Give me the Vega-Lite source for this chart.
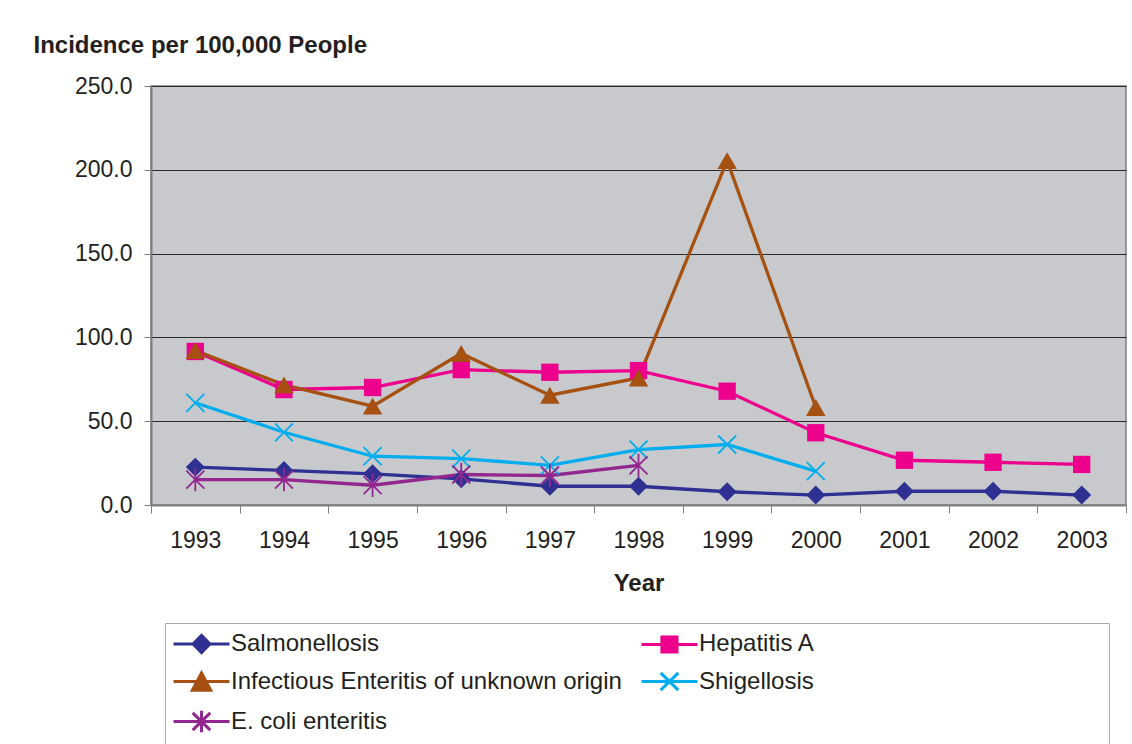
{
  "$schema": "https://vega.github.io/schema/vega-lite/v6.json",
  "width": 975,
  "height": 419,
  "autosize": {"type": "none"},
  "padding": {"left": 151, "top": 86, "right": 6, "bottom": 239},
  "background": "white",
  "config": {
    "font": "Liberation Sans",
    "view": {"fill": "#C8C9CD", "stroke": "#7F7F7F", "strokeWidth": 1.5}
  },
  "data": {
    "values": [
      {"year": "1993", "disease": "Salmonellosis", "value": 22.6},
      {"year": "1994", "disease": "Salmonellosis", "value": 20.6},
      {"year": "1995", "disease": "Salmonellosis", "value": 18.6},
      {"year": "1996", "disease": "Salmonellosis", "value": 15.6},
      {"year": "1997", "disease": "Salmonellosis", "value": 11.2},
      {"year": "1998", "disease": "Salmonellosis", "value": 11.2},
      {"year": "1999", "disease": "Salmonellosis", "value": 7.9},
      {"year": "2000", "disease": "Salmonellosis", "value": 5.9},
      {"year": "2001", "disease": "Salmonellosis", "value": 8.2},
      {"year": "2002", "disease": "Salmonellosis", "value": 8.2},
      {"year": "2003", "disease": "Salmonellosis", "value": 5.9},
      {"year": "1993", "disease": "Hepatitis A", "value": 91.6},
      {"year": "1994", "disease": "Hepatitis A", "value": 68.9},
      {"year": "1995", "disease": "Hepatitis A", "value": 70.1},
      {"year": "1996", "disease": "Hepatitis A", "value": 80.8},
      {"year": "1997", "disease": "Hepatitis A", "value": 79.2},
      {"year": "1998", "disease": "Hepatitis A", "value": 80.2},
      {"year": "1999", "disease": "Hepatitis A", "value": 67.9},
      {"year": "2000", "disease": "Hepatitis A", "value": 43.1},
      {"year": "2001", "disease": "Hepatitis A", "value": 26.7},
      {"year": "2002", "disease": "Hepatitis A", "value": 25.5},
      {"year": "2003", "disease": "Hepatitis A", "value": 24.2},
      {"year": "1993", "disease": "Infectious Enteritis of unknown origin", "value": 92.2},
      {"year": "1994", "disease": "Infectious Enteritis of unknown origin", "value": 71.7},
      {"year": "1995", "disease": "Infectious Enteritis of unknown origin", "value": 59.0},
      {"year": "1996", "disease": "Infectious Enteritis of unknown origin", "value": 90.4},
      {"year": "1997", "disease": "Infectious Enteritis of unknown origin", "value": 65.5},
      {"year": "1998", "disease": "Infectious Enteritis of unknown origin", "value": 75.8},
      {"year": "1999", "disease": "Infectious Enteritis of unknown origin", "value": 205.5},
      {"year": "2000", "disease": "Infectious Enteritis of unknown origin", "value": 58.2},
      {"year": "1993", "disease": "Shigellosis", "value": 61.0},
      {"year": "1994", "disease": "Shigellosis", "value": 43.4},
      {"year": "1995", "disease": "Shigellosis", "value": 29.1},
      {"year": "1996", "disease": "Shigellosis", "value": 27.7},
      {"year": "1997", "disease": "Shigellosis", "value": 23.7},
      {"year": "1998", "disease": "Shigellosis", "value": 33.1},
      {"year": "1999", "disease": "Shigellosis", "value": 36.1},
      {"year": "2000", "disease": "Shigellosis", "value": 20.2},
      {"year": "1993", "disease": "E. coli enteritis", "value": 15.2},
      {"year": "1994", "disease": "E. coli enteritis", "value": 15.2},
      {"year": "1995", "disease": "E. coli enteritis", "value": 11.8},
      {"year": "1996", "disease": "E. coli enteritis", "value": 18.2},
      {"year": "1997", "disease": "E. coli enteritis", "value": 17.6},
      {"year": "1998", "disease": "E. coli enteritis", "value": 23.6}
    ]
  },
  "encoding": {
    "x": {
      "field": "year",
      "type": "ordinal",
      "scale": {"type": "band", "paddingInner": 0, "paddingOuter": 0},
      "axis": {
        "title": "Year",
        "titleFontSize": 24,
        "titleFontWeight": "bold",
        "titleColor": "#231F20",
        "titlePadding": 19,
        "labelFontSize": 23,
        "labelColor": "#231F20",
        "labelAngle": 0,
        "labelPadding": 16,
        "tickBand": "extent",
        "tickSize": 8,
        "tickColor": "#7F7F7F",
        "domainColor": "#7F7F7F",
        "domainWidth": 2,
        "grid": false
      }
    },
    "y": {
      "field": "value",
      "type": "quantitative",
      "scale": {"domain": [0, 250], "nice": false},
      "axis": {
        "title": "Incidence per 100,000 People",
        "titleAngle": 0,
        "titleAlign": "left",
        "titleBaseline": "alphabetic",
        "titleX": -118,
        "titleY": -34,
        "titleFontSize": 24,
        "titleFontWeight": "bold",
        "titleColor": "#231F20",
        "values": [0, 50, 100, 150, 200, 250],
        "format": ".1f",
        "labelFontSize": 23,
        "labelColor": "#231F20",
        "labelPadding": 12,
        "tickSize": 7,
        "tickColor": "#7F7F7F",
        "domainColor": "#7F7F7F",
        "domainWidth": 2,
        "grid": true,
        "gridColor": "#2A2A2A",
        "gridWidth": 1
      }
    },
    "color": {
      "field": "disease",
      "type": "nominal",
      "scale": {
        "domain": ["Salmonellosis", "Hepatitis A", "Infectious Enteritis of unknown origin", "Shigellosis", "E. coli enteritis"],
        "range": ["#2E3192", "#EC008C", "#A65111", "#00AEEF", "#92278F"]
      },
      "legend": {
        "title": null,
        "orient": "none",
        "legendX": 14,
        "legendY": 537,
        "direction": "horizontal",
        "columns": 2,
        "symbolSize": 576,
        "symbolStrokeWidth": 3,
        "symbolOpacity": 1,
        "labelFontSize": 24,
        "labelColor": "#231F20",
        "labelOffset": 32,
        "labelLimit": 900,
        "labelExpr": "datum.label === 'Hepatitis A' ? datum.label + '                                           \u200b' : datum.label",
        "rowPadding": 7,
        "columnPadding": 13,
        "padding": 7,
        "strokeColor": "#ABABAB",
        "fillColor": "white"
      }
    }
  },
  "layer": [
    {"mark": {"type": "line", "strokeWidth": 3.3}},
    {
      "mark": {"type": "point", "filled": true, "opacity": 0},
      "encoding": {
        "shape": {
          "field": "disease",
          "type": "nominal",
          "scale": {
            "domain": ["Salmonellosis", "Hepatitis A", "Infectious Enteritis of unknown origin", "Shigellosis", "E. coli enteritis"],
            "range": [
              "M-1,0H3.667M1.333,-0.72L2.03,0L1.333,0.72L0.63,0Z",
              "M-1,0H3.667M0.7,-0.63H1.96V0.63H0.7Z",
              "M-1,0H3.667M1.333,-0.72L2.1,0.72H0.57Z",
              "M-1,0H3.667M0.6,-0.72L2.06,0.72M0.6,0.72L2.06,-0.72",
              "M-1,0H3.667M0.6,-0.72L2.06,0.72M0.6,0.72L2.06,-0.72M1.333,-0.9V0.9"
            ]
          }
        }
      }
    },
    {
      "transform": [{"filter": {"field": "disease", "equal": "Salmonellosis"}}],
      "mark": {"type": "point", "shape": "diamond", "filled": true, "size": 360, "opacity": 1}
    },
    {
      "transform": [{"filter": {"field": "disease", "equal": "Hepatitis A"}}],
      "mark": {"type": "point", "shape": "square", "filled": true, "size": 300, "opacity": 1}
    },
    {
      "transform": [{"filter": {"field": "disease", "equal": "Infectious Enteritis of unknown origin"}}],
      "mark": {"type": "point", "shape": "triangle-up", "filled": true, "size": 380, "opacity": 1}
    },
    {
      "transform": [{"filter": {"field": "disease", "equal": "Shigellosis"}}],
      "mark": {"type": "point", "shape": "M-1,-1L1,1M-1,1L1,-1", "filled": false, "size": 324, "strokeWidth": 1.8, "opacity": 1}
    },
    {
      "transform": [{"filter": {"field": "disease", "equal": "E. coli enteritis"}}],
      "mark": {"type": "point", "shape": "M-1,-1L1,1M-1,1L1,-1M0,-1.3V1.3", "filled": false, "size": 324, "strokeWidth": 1.8, "opacity": 1}
    }
  ]
}
